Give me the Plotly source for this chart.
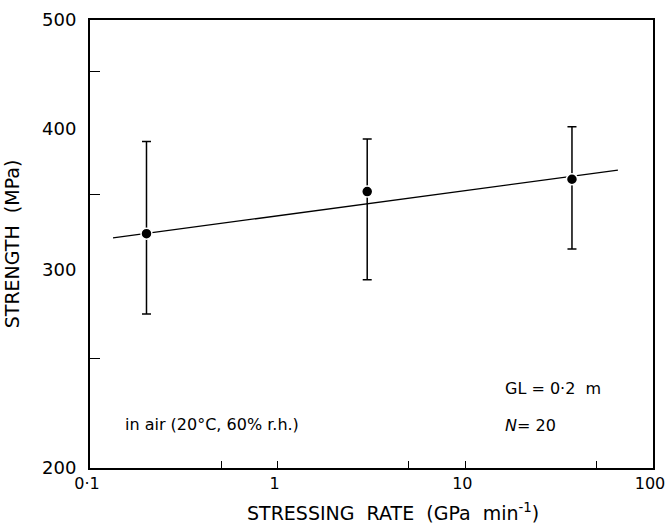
import plotly.graph_objects as go
import numpy as np

# Data
rate = [0.2, 3.0, 37.0]                 # GPa/min
strength = [323, 352, 361]              # MPa (mean)
upper = [390, 392, 402]                 # top of error bar
lower = [274, 294, 313]                 # bottom of error bar
fit_x = [0.1326, 65.0]
fit_y = [320.2, 367.8]

x_tickvals = [0.1, 1, 10, 100]
x_ticktext = ["0·1", "1", "10", "100"]
x_minor = [0.5, 5, 50]
y_tickvals = [200, 300, 400, 500]
y_ticktext = ["200", "300", "400", "500"]
y_minor = [250, 350, 450]

err_plus = [u - s for u, s in zip(upper, strength)]
err_minus = [s - l for s, l in zip(strength, lower)]

FONT = "DejaVu Sans"
L, R, T, B = 90, 14, 20, 58
W, H = 667, 526
PW, PH = W - L - R, H - T - B

fig = go.Figure()
fig.add_trace(go.Scatter(x=fit_x, y=fit_y, mode="lines",
                         line=dict(color="black", width=1.3), showlegend=False))
fig.add_trace(go.Scatter(
    x=rate, y=strength, mode="markers",
    marker=dict(color="black", size=11, line=dict(color="white", width=1.5)),
    error_y=dict(type="data", symmetric=False, array=err_plus, arrayminus=err_minus,
                 color="black", thickness=1.5, width=4.5),
    showlegend=False))

fig.update_xaxes(type="log", range=[np.log10(0.1), np.log10(100)],
                 tickvals=x_tickvals, ticktext=x_ticktext,
                 ticks="inside", ticklen=7, tickwidth=1.3, tickcolor="black",
                 ticklabelstandoff=0, ticklabelshift=-3, ticklabeloverflow="allow",
                 minor=dict(tickvals=x_minor, ticks="inside", ticklen=7, tickwidth=1.3,
                            tickcolor="black", showgrid=False),
                 showline=True, linecolor="black", linewidth=2, mirror=True,
                 showgrid=False, zeroline=False, automargin=False,
                 tickfont=dict(family=FONT, size=16, color="black"))
fig.update_yaxes(type="log", range=[np.log10(200), np.log10(500)],
                 tickvals=y_tickvals, ticktext=y_ticktext,
                 ticks="", ticklabelstandoff=8, ticklabeloverflow="allow",
                 minor=dict(tickvals=y_minor, ticks="inside", ticklen=10, tickwidth=1.3,
                            tickcolor="black", showgrid=False),
                 showline=True, linecolor="black", linewidth=2, mirror=True,
                 showgrid=False, zeroline=False, automargin=False,
                 tickfont=dict(family=FONT, size=18, color="black"),
                 title=dict(text="STRENGTH  (MPa)",
                            font=dict(family=FONT, size=19, color="black"), standoff=17))

def px_to_paper(px, py):
    return (px - L) / PW, (H - B - py) / PH

# x-axis title
tx, ty = px_to_paper(393, 512)
fig.add_annotation(x=tx, y=ty, xref="paper", yref="paper", showarrow=False,
                   text="STRESSING  RATE  (GPa  min<sup>-1</sup>)",
                   xanchor="center", yanchor="middle",
                   font=dict(family=FONT, size=19, color="black"))

ax, ay = px_to_paper(123, 424)
fig.add_annotation(x=ax, y=ay, xref="paper", yref="paper",
                   text="in air (20°C, 60% r.h.)", showarrow=False,
                   xanchor="left", yanchor="middle",
                   font=dict(family=FONT, size=16, color="black"))
gx, gy = px_to_paper(503, 388)
fig.add_annotation(x=gx, y=gy, xref="paper", yref="paper",
                   text="GL = 0·2  m", showarrow=False,
                   xanchor="left", yanchor="middle",
                   font=dict(family=FONT, size=16, color="black"))
nx, ny = px_to_paper(503, 425)
fig.add_annotation(x=nx, y=ny, xref="paper", yref="paper",
                   text="<i>N</i>= 20", showarrow=False,
                   xanchor="left", yanchor="middle",
                   font=dict(family=FONT, size=16, color="black"))

fig.update_layout(width=W, height=H,
                  margin=dict(l=L, r=R, t=T, b=B),
                  plot_bgcolor="white", paper_bgcolor="white")
fig.write_html("out.html")
